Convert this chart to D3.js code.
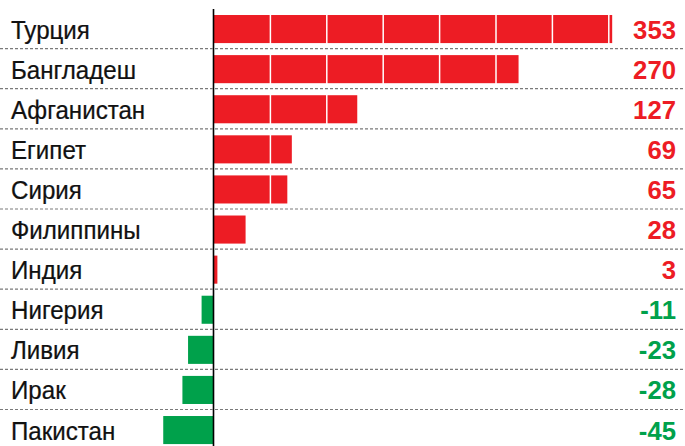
<!DOCTYPE html>
<html><head><meta charset="utf-8">
<script src="https://cdn.jsdelivr.net/npm/d3@7"></script>
<style>html,body{margin:0;padding:0;background:#fff;}svg{display:block;}</style>
</head><body>
<svg id="chart" width="685" height="446"></svg>
<script>
const categories = ["Турция","Бангладеш","Афганистан","Египет","Сирия","Филиппины","Индия","Нигерия","Ливия","Ирак","Пакистан"];
const values = [353, 270, 127, 69, 65, 28, 3, -11, -23, -28, -45];
const gridTicks = [50, 100, 150, 200, 250, 300, 350];

const W = 685, H = 446;
const RED = "#ED1C24", GREEN = "#00A14B";
const data = categories.map((c, i) => ({c, v: values[i]}));
const svg = d3.select("#chart");

const x = d3.scaleLinear().domain([-50, 400]).range([157.6, 665.2]);
const y = d3.scaleBand().domain(categories).range([9, 450.1]).paddingInner(0.3).paddingOuter(0.15);
const bw = y.bandwidth();
const x0 = x(0);

// bars
const bars = svg.append("g").selectAll("rect").data(data).join("rect")
  .attr("x", d => Math.min(x(d.v), x0))
  .attr("y", d => y(d.c))
  .attr("width", d => Math.abs(x(d.v) - x0))
  .attr("height", bw)
  .attr("fill", d => d.v >= 0 ? RED : GREEN);

// zero line
svg.append("line").attr("x1", x0 - 0.5).attr("x2", x0 - 0.5).attr("y1", 9).attr("y2", H)
  .attr("stroke", "#000").attr("stroke-width", 1.6);
bars.filter(d => d.v >= 0).raise();

// white grid lines over bars
svg.append("g").selectAll("line").data(gridTicks).join("line")
  .attr("x1", d => x(d)).attr("x2", d => x(d))
  .attr("y1", y(categories[0])).attr("y2", H)
  .attr("stroke", "#fff").attr("stroke-width", 1.5);

// dotted separators
svg.append("g").selectAll("line").data(categories.slice(0, -1)).join("line")
  .attr("x1", 0).attr("x2", W)
  .attr("y1", d => y(d) + bw + 5.5).attr("y2", d => y(d) + bw + 5.5)
  .attr("stroke", "#7a7a7a").attr("stroke-width", 1.2).attr("stroke-dasharray", "3,2");

// category labels
svg.append("g").selectAll("text").data(data).join("text")
  .attr("transform", d => `translate(11,${y(d.c) + bw / 2 + 9.5}) scale(0.91,1)`)
  .attr("font-family", "'Liberation Sans', Arial, sans-serif")
  .attr("font-size", 26.5)
  .attr("fill", "#111")
  .attr("stroke", "#111").attr("stroke-width", 0.25)
  .text(d => d.c);

// value labels
svg.append("g").selectAll("text").data(data).join("text")
  .attr("transform", d => `translate(676,${y(d.c) + bw / 2 + 9.5}) scale(0.97,1)`)
  .attr("text-anchor", "end")
  .attr("font-family", "'Liberation Sans', Arial, sans-serif")
  .attr("font-weight", "bold")
  .attr("font-size", 26.5)
  .attr("fill", d => d.v >= 0 ? RED : GREEN)
  .text(d => d.v);
</script>
</body></html>
